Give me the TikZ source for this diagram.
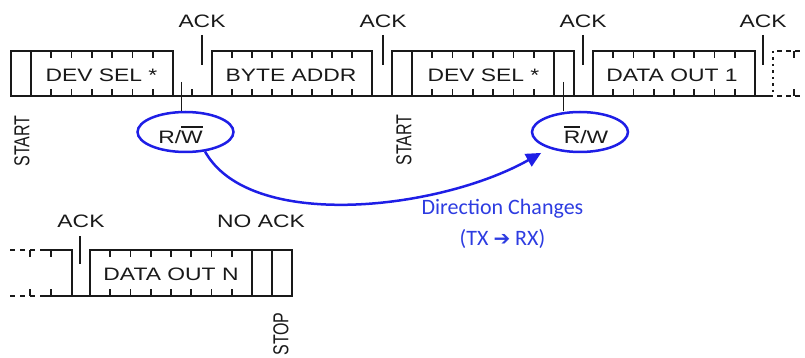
\documentclass[tikz,border=0pt]{standalone}
\usepackage{fontspec}
\setmainfont{Liberation Sans}
\newfontfamily\calfont{Carlito}
\newfontfamily\dvfont{DejaVu Sans}
\usepackage{graphicx}
\usetikzlibrary{arrows.meta,shapes.geometric}
\definecolor{wave}{RGB}{25,25,25}
\definecolor{myblue}{RGB}{30,30,230}
\definecolor{txtblue}{RGB}{45,60,225}
\newcommand\hs[1]{\scalebox{1.27}[1]{#1}}
\newcommand\vs[1]{\scalebox{1}[1.35]{#1}}
\newcommand\ovl[1]{\setbox0\hbox{#1}\rlap{\raisebox{\dimexpr\ht0+4pt\relax}{\rule{\wd0}{1.2pt}}}\box0}
\newcommand\bitbox[5]{%
  \draw[wv] (#1,#3) rectangle (#2,#4);
  \pgfmathsetmacro\cw{(#2-#1)/#5}
  \pgfmathtruncatemacro\nn{#5-1}
  \ifnum\nn>0
  \foreach \k in {1,...,\nn}{
    \draw[tk] ({#1+\k*\cw},#3) -- ++(0,7);
    \draw[tk] ({#1+\k*\cw},#4) -- ++(0,-7);
  }
  \fi
}
\tikzset{
 wv/.style={draw=wave, line width=2pt, line join=miter},
 tk/.style={draw=wave, line width=1.6pt},
 ackln/.style={draw=wave, line width=1.6pt},
 lbl/.style={anchor=base, inner sep=0, text=black!90, font=\fontsize{18}{20}\selectfont},
 vlbl/.style={inner sep=0, rotate=90, text=black!90, font=\fontsize{16}{18}\selectfont},
 rwell/.style={ellipse, draw=myblue, line width=2.5pt, fill=white, minimum width=96pt, minimum height=40pt, inner sep=0},
 bluetxt/.style={anchor=base, inner sep=0, text=txtblue, font=\calfont\fontsize{22}{24}\selectfont},
}
\begin{document}
\begin{tikzpicture}[x=1pt,y=-1pt]
\useasboundingbox (0,0) rectangle (805,358);
% ---------- row 1 ----------
\draw[wv] (11,96) -- (773,96);
\bitbox{11}{31}{51}{96}{1}
\bitbox{31}{173}{51}{96}{7}
\bitbox{212}{372}{51}{96}{8}
\bitbox{392}{412}{51}{96}{1}
\bitbox{412}{554}{51}{96}{7}
\bitbox{593}{755}{51}{96}{8}
\draw[wv] (554,51) -- (574,51) -- (574,96);
\draw[tk] (192,96) -- ++(0,-7);
% continuation
\draw[wave, line width=2pt, dash pattern=on 2.5pt off 4pt] (773,51) -- (773,96);
\draw[wv, dash pattern=on 5pt off 4pt] (777,51) -- (800,51);
\draw[wv, dash pattern=on 5pt off 4pt] (777,96) -- (800,96);
\draw[tk] (794,51) -- ++(0,7);
\draw[tk] (794,96) -- ++(0,-7);
% ACK markers row 1
\foreach \x/\n in {202/a1,383/a2,583/a3,763/a4}{
  \coordinate (\n) at (\x,35);
  \draw[ackln] (\n) -- ++(0,30);
  \node[lbl] (\n t) at (\x,28) {\hs{ACK}};
}
% box labels row 1
\node[lbl] (ds1) at (101.5,82) {\hs{DEV SEL *}};
\node[lbl] (ba) at (291,82) {\hs{BYTE ADDR}};
\node[lbl] (ds2) at (483.5,82) {\hs{DEV SEL *}};
\node[lbl] (do1) at (672,82) {\hs{DATA OUT 1}};
% START labels
\node[vlbl] (st1) at (22,141) {\vs{START}};
\node[vlbl] (st2) at (404,140) {\vs{START}};
% R/W ellipses
\node[rwell] (e1) at (185.5,132) {};
\node[rwell] (e2) at (580,132) {};
\node[lbl] (rw1) at (180.5,144) {\hs{R/\ovl{W}}};
\node[lbl] (rw2) at (586,144) {\hs{\ovl{R}/W}};
\coordinate (r1) at (181.5,82);
\coordinate (r2) at (563.5,82);
\draw[ackln] (r1) -- (r1 |- e1.north);
\draw[ackln] (r2) -- (r2 |- e2.north);
% direction arrow
\draw[myblue, line width=2.5pt, -{Triangle[length=15pt,width=14pt]}, shorten >=9pt]
  (e1.-45) .. controls (250,232) and (440,210) .. (e2.-152);
\node[bluetxt] (dc) at (502.5,214) {Direction Changes};
\node[bluetxt] (tr) at (502.5,245) {(TX {\dvfont\bfseries\fontsize{20}{22}\selectfont ➔} RX)};
% ---------- row 2 ----------
\draw[wv, dash pattern=on 5pt off 5pt] (10,250) -- (40,250);
\draw[wv, dash pattern=on 5pt off 5pt] (10,296) -- (40,296);
\draw[wv] (40,250) -- (72,250) -- (72,296);
\draw[wv] (40,296) -- (292,296);
\foreach \x in {30,51}{
  \draw[tk] (\x,250) -- ++(0,7);
  \draw[tk] (\x,296) -- ++(0,-7);
}
\bitbox{90}{252}{250}{296}{8}
\draw[wv] (252,250) -- (272,250);
\bitbox{272}{292}{250}{296}{1}
\coordinate (a5) at (80,236);
\draw[ackln] (a5) -- ++(0,28);
\node[lbl] (a5t) at (81,227) {\hs{ACK}};
\node[lbl] (nack) at (261,227) {\hs{NO ACK}};
\node[lbl] (don) at (171,280) {\hs{DATA OUT N}};
\node[vlbl] (stop) at (281,334) {\vs{STOP}};
\end{tikzpicture}
\end{document}
